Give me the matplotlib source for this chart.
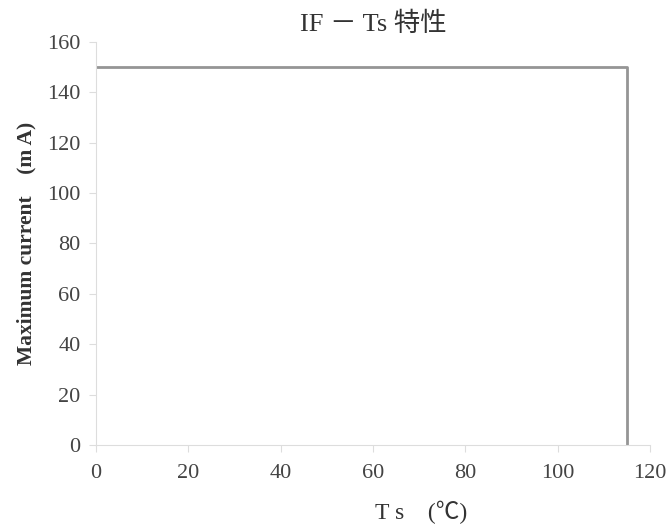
import matplotlib.pyplot as plt

plt.rcParams['font.family'] = ['Liberation Serif', 'Noto Sans CJK JP', 'DejaVu Sans']

# derating curve: max forward current vs solder temperature
ts = [0, 115, 115]
i_max = [150, 150, 0]

xticks = [0, 20, 40, 60, 80, 100, 120]
yticks = [0, 20, 40, 60, 80, 100, 120, 140, 160]

fig = plt.figure(figsize=(6.69, 5.31), dpi=100)
ax = fig.add_axes([0.1435, 0.162, 0.828, 0.759])

ax.plot(ts, i_max, color='#959595', lw=2)

ax.set_xlim(0, 120)
ax.set_ylim(0, 160)
ax.set_xticks(xticks)
ax.set_yticks(yticks)
ax.tick_params(colors='#dddddd', labelcolor='#444444', labelsize=16, length=5, width=0.8)
ax.tick_params(axis='x', pad=9)
ax.tick_params(axis='y', pad=6)
for s in ['top', 'right']:
    ax.spines[s].set_visible(False)
for s in ['left', 'bottom']:
    ax.spines[s].set_color('#dddddd')

ax.set_title('IF － Ts 特性', fontsize=19, color='#333333', pad=8)
fig.text(0.63, 0.022, 'T s　(℃)', fontsize=17, color='#333333', ha='center')
ax.set_ylabel('Maximum current　(m A)', fontsize=15.5, fontweight='bold', color='#333333', labelpad=8)

fig.savefig('out.png', dpi=100)
